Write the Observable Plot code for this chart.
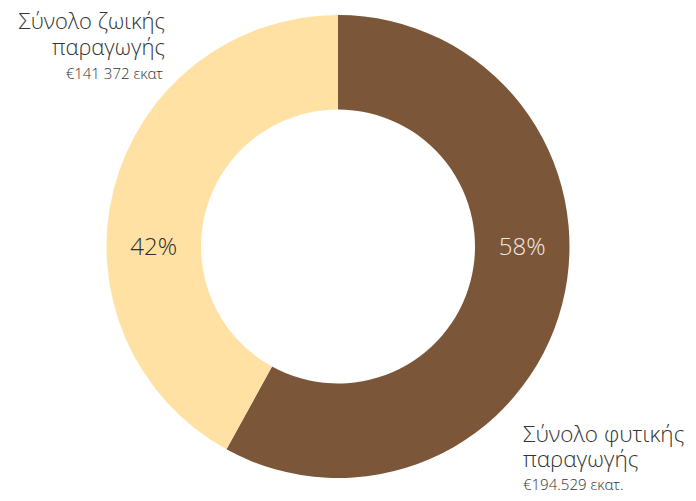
<!DOCTYPE html>
<html>
<head>
<meta charset="utf-8">
<script src="https://cdn.jsdelivr.net/npm/d3@7"></script>
<script src="https://cdn.jsdelivr.net/npm/@observablehq/plot@0.6"></script>
<style>
  html, body { margin: 0; padding: 0; background: #fff; }
  svg { display: block; }
</style>
</head>
<body>
<div id="chart"></div>
<script>
// Data
const categories = ["Σύνολο φυτικής παραγωγής", "Σύνολο ζωικής παραγωγής"];
const nameLines = [["Σύνολο φυτικής", "παραγωγής"], ["Σύνολο ζωικής", "παραγωγής"]];
const shares = [58, 42];
const amountLabels = ["€194.529 εκατ.", "€141 372 εκατ"];
const colors = ["#7b5638", "#ffe1a3"];
const pctColors = ["#f3ebe3", "#2e2e2e"];

const W = 696, H = 501;
const cx = 338, cy = 246.5, outerR = 231.5, innerR = 137;
const FONT = "'Open Sans', 'Noto Sans', sans-serif";

const data = categories.map((c, i) => ({category: c, share: shares[i]}));

const pie = d3.pie().value(d => d.share).sort(null);
const arcs = pie(data);
const arcGen = d3.arc().innerRadius(innerR).outerRadius(outerR);

function donutMark(index, scales) {
  const g = d3.create("svg:g").attr("transform", `translate(${cx},${cy})`);
  g.selectAll("path").data(arcs).join("path")
    .attr("d", arcGen)
    .attr("fill", d => scales.color(d.data.category));
  const midR = (innerR + outerR) / 2;
  g.selectAll("text").data(arcs).join("text")
    .attr("x", d => {
      const mid = (d.startAngle + d.endAngle) / 2;
      return Math.sin(mid) >= 0 ? midR : -midR;
    })
    .attr("y", 8)
    .attr("text-anchor", "middle")
    .attr("font-family", FONT)
    .attr("font-weight", 300)
    .attr("font-size", 24)
    .attr("fill", (d, i) => pctColors[i])
    .text(d => `${d.data.share}%`);
  return g.node();
}

function labelMark() {
  const g = d3.create("svg:g").attr("font-family", FONT).attr("fill", "#333").attr("font-weight", 300);
  const add = (x, y, size, anchor, txt) =>
    g.append("text").attr("x", x).attr("y", y).attr("font-size", size)
      .attr("text-anchor", anchor).text(txt);
  // top-left label (second category)
  add(165, 29, 22, "end", nameLines[1][0]);
  add(165, 55, 22, "end", nameLines[1][1]);
  add(163, 79, 15, "end", amountLabels[1]);
  // bottom-right label (first category)
  add(523, 442, 22.5, "start", nameLines[0][0]);
  add(523, 467, 22.5, "start", nameLines[0][1]);
  add(523, 490, 15, "start", amountLabels[0]);
  return g.node();
}

const chart = Plot.plot({
  width: W,
  height: H,
  margin: 0,
  x: {axis: null},
  y: {axis: null},
  color: {domain: categories, range: colors},
  style: {background: "#fff", fontFamily: FONT},
  marks: [donutMark, labelMark]
});
document.getElementById("chart").appendChild(chart);
</script>
</body>
</html>
